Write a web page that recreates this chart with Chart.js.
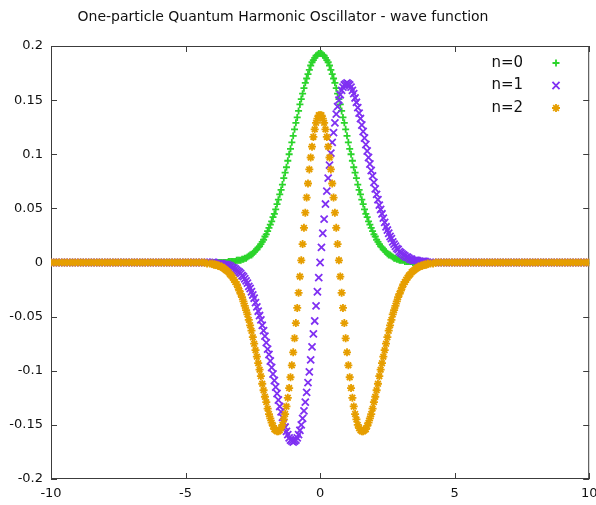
<!DOCTYPE html>
<html>
<head>
<meta charset="utf-8">
<title>One-particle Quantum Harmonic Oscillator</title>
<script src="https://cdn.jsdelivr.net/npm/chart.js@4/dist/chart.umd.min.js"></script>
<style>
  html, body { margin: 0; padding: 0; background: #ffffff; }
  #wrap { width: 596px; height: 505px; }
</style>
</head>
<body>
<div id="wrap"><canvas id="waveChart" width="596" height="505"></canvas></div>
<script>
/* --------------- Data --------------------- */
const chartTitle = "One-particle Quantum Harmonic Oscillator - wave function";
const seriesNames = ["n=0", "n=1", "n=2"];

// sample positions: coarse in the flat tails, fine in the core
const xs = [
  -10, -9.9, -9.8, -9.7, -9.6, -9.5, -9.4, -9.3, -9.2, -9.1,
  -9, -8.9, -8.8, -8.7, -8.6, -8.5, -8.4, -8.3, -8.2, -8.1,
  -8, -7.9, -7.8, -7.7, -7.6, -7.5, -7.4, -7.3, -7.2, -7.1,
  -7, -6.9, -6.8, -6.7, -6.6, -6.5, -6.4, -6.3, -6.2, -6.1,
  -6, -5.9, -5.8, -5.7, -5.6, -5.5, -5.4, -5.3, -5.2, -5.1,
  -5, -4.9, -4.8, -4.7, -4.6, -4.5, -4.4, -4.3, -4.2, -4.1,
  -4, -3.95, -3.9, -3.85, -3.8, -3.75, -3.7, -3.65, -3.6, -3.55,
  -3.5, -3.45, -3.4, -3.35, -3.3, -3.25, -3.2, -3.15, -3.1, -3.05,
  -3, -2.95, -2.9, -2.85, -2.8, -2.75, -2.7, -2.65, -2.6, -2.55,
  -2.5, -2.45, -2.4, -2.35, -2.3, -2.25, -2.2, -2.15, -2.1, -2.05,
  -2, -1.95, -1.9, -1.85, -1.8, -1.75, -1.7, -1.65, -1.6, -1.55,
  -1.5, -1.45, -1.4, -1.35, -1.3, -1.25, -1.2, -1.15, -1.1, -1.05,
  -1, -0.95, -0.9, -0.85, -0.8, -0.75, -0.7, -0.65, -0.6, -0.55,
  -0.5, -0.45, -0.4, -0.35, -0.3, -0.25, -0.2, -0.15, -0.1, -0.05,
  0, 0.05, 0.1, 0.15, 0.2, 0.25, 0.3, 0.35, 0.4, 0.45,
  0.5, 0.55, 0.6, 0.65, 0.7, 0.75, 0.8, 0.85, 0.9, 0.95,
  1, 1.05, 1.1, 1.15, 1.2, 1.25, 1.3, 1.35, 1.4, 1.45,
  1.5, 1.55, 1.6, 1.65, 1.7, 1.75, 1.8, 1.85, 1.9, 1.95,
  2, 2.05, 2.1, 2.15, 2.2, 2.25, 2.3, 2.35, 2.4, 2.45,
  2.5, 2.55, 2.6, 2.65, 2.7, 2.75, 2.8, 2.85, 2.9, 2.95,
  3, 3.05, 3.1, 3.15, 3.2, 3.25, 3.3, 3.35, 3.4, 3.45,
  3.5, 3.55, 3.6, 3.65, 3.7, 3.75, 3.8, 3.85, 3.9, 3.95,
  4,
  4.1, 4.2, 4.3, 4.4, 4.5, 4.6, 4.7, 4.8, 4.9, 5,
  5.1, 5.2, 5.3, 5.4, 5.5, 5.6, 5.7, 5.8, 5.9, 6,
  6.1, 6.2, 6.3, 6.4, 6.5, 6.6, 6.7, 6.8, 6.9, 7,
  7.1, 7.2, 7.3, 7.4, 7.5, 7.6, 7.7, 7.8, 7.9, 8,
  8.1, 8.2, 8.3, 8.4, 8.5, 8.6, 8.7, 8.8, 8.9, 9,
  9.1, 9.2, 9.3, 9.4, 9.5, 9.6, 9.7, 9.8, 9.9, 10,
];

// n=0
const psi0 = [
  0, 0, 0, 0, 0, 0, 0, 0, 0, 0,
  0, 0, 0, 0, 0, 0, 0, 0, 0, 0,
  0, 0, 0, 0, 0, 0, 0, 0, 0, 0,
  0, 0, 0, 0, 0, 0, 0, 0, 0, 0,
  0, 0, 0, 0, 0, 0, 0, 0, 0, 0,
  0, 0, 0, 0, 0, 0, 0, 0, 0, 0,
  0, 0, 0, 0, 0, 0, 0, 0, 0, 0,
  0, 0, 0.001, 0.001, 0.001, 0.001, 0.001, 0.001, 0.002, 0.002,
  0.002, 0.002, 0.003, 0.003, 0.004, 0.004, 0.005, 0.006, 0.007, 0.007,
  0.008, 0.010, 0.011, 0.012, 0.014, 0.015, 0.017, 0.019, 0.021, 0.024,
  0.026, 0.029, 0.032, 0.035, 0.038, 0.042, 0.045, 0.049, 0.054, 0.058,
  0.063, 0.067, 0.072, 0.078, 0.083, 0.088, 0.094, 0.100, 0.105, 0.111,
  0.117, 0.123, 0.129, 0.134, 0.140, 0.146, 0.151, 0.156, 0.161, 0.166,
  0.170, 0.174, 0.178, 0.182, 0.185, 0.187, 0.189, 0.191, 0.192, 0.193,
  0.193, 0.193, 0.192, 0.191, 0.189, 0.187, 0.185, 0.182, 0.178, 0.174,
  0.170, 0.166, 0.161, 0.156, 0.151, 0.146, 0.140, 0.134, 0.129, 0.123,
  0.117, 0.111, 0.105, 0.100, 0.094, 0.088, 0.083, 0.078, 0.072, 0.067,
  0.063, 0.058, 0.054, 0.049, 0.045, 0.042, 0.038, 0.035, 0.032, 0.029,
  0.026, 0.024, 0.021, 0.019, 0.017, 0.015, 0.014, 0.012, 0.011, 0.010,
  0.008, 0.007, 0.007, 0.006, 0.005, 0.004, 0.004, 0.003, 0.003, 0.002,
  0.002, 0.002, 0.002, 0.001, 0.001, 0.001, 0.001, 0.001, 0.001, 0,
  0, 0, 0, 0, 0, 0, 0, 0, 0, 0,
  0,
  0, 0, 0, 0, 0, 0, 0, 0, 0, 0,
  0, 0, 0, 0, 0, 0, 0, 0, 0, 0,
  0, 0, 0, 0, 0, 0, 0, 0, 0, 0,
  0, 0, 0, 0, 0, 0, 0, 0, 0, 0,
  0, 0, 0, 0, 0, 0, 0, 0, 0, 0,
  0, 0, 0, 0, 0, 0, 0, 0, 0, 0,
];

// n=1
const psi1 = [
  0, 0, 0, 0, 0, 0, 0, 0, 0, 0,
  0, 0, 0, 0, 0, 0, 0, 0, 0, 0,
  0, 0, 0, 0, 0, 0, 0, 0, 0, 0,
  0, 0, 0, 0, 0, 0, 0, 0, 0, 0,
  0, 0, 0, 0, 0, 0, 0, 0, 0, 0,
  0, 0, 0, 0, 0, 0, 0, 0, 0, 0,
  0, 0, -0.001, -0.001, -0.001, -0.001, -0.001, -0.001, -0.002, -0.002,
  -0.002, -0.002, -0.003, -0.003, -0.004, -0.005, -0.005, -0.006, -0.007, -0.008,
  -0.009, -0.010, -0.012, -0.013, -0.015, -0.017, -0.019, -0.022, -0.024, -0.027,
  -0.030, -0.033, -0.037, -0.041, -0.045, -0.049, -0.053, -0.058, -0.063, -0.068,
  -0.074, -0.080, -0.085, -0.091, -0.097, -0.103, -0.109, -0.115, -0.121, -0.127,
  -0.133, -0.138, -0.143, -0.148, -0.152, -0.156, -0.159, -0.162, -0.164, -0.165,
  -0.166, -0.165, -0.164, -0.162, -0.159, -0.155, -0.150, -0.144, -0.137, -0.129,
  -0.120, -0.111, -0.101, -0.090, -0.078, -0.066, -0.054, -0.040, -0.027, -0.014,
  0, 0.014, 0.027, 0.040, 0.054, 0.066, 0.078, 0.090, 0.101, 0.111,
  0.120, 0.129, 0.137, 0.144, 0.150, 0.155, 0.159, 0.162, 0.164, 0.165,
  0.166, 0.165, 0.164, 0.162, 0.159, 0.156, 0.152, 0.148, 0.143, 0.138,
  0.133, 0.127, 0.121, 0.115, 0.109, 0.103, 0.097, 0.091, 0.085, 0.080,
  0.074, 0.068, 0.063, 0.058, 0.053, 0.049, 0.045, 0.041, 0.037, 0.033,
  0.030, 0.027, 0.024, 0.022, 0.019, 0.017, 0.015, 0.013, 0.012, 0.010,
  0.009, 0.008, 0.007, 0.006, 0.005, 0.005, 0.004, 0.003, 0.003, 0.002,
  0.002, 0.002, 0.002, 0.001, 0.001, 0.001, 0.001, 0.001, 0.001, 0,
  0,
  0, 0, 0, 0, 0, 0, 0, 0, 0, 0,
  0, 0, 0, 0, 0, 0, 0, 0, 0, 0,
  0, 0, 0, 0, 0, 0, 0, 0, 0, 0,
  0, 0, 0, 0, 0, 0, 0, 0, 0, 0,
  0, 0, 0, 0, 0, 0, 0, 0, 0, 0,
  0, 0, 0, 0, 0, 0, 0, 0, 0, 0,
];

// n=2
const psi2 = [
  0, 0, 0, 0, 0, 0, 0, 0, 0, 0,
  0, 0, 0, 0, 0, 0, 0, 0, 0, 0,
  0, 0, 0, 0, 0, 0, 0, 0, 0, 0,
  0, 0, 0, 0, 0, 0, 0, 0, 0, 0,
  0, 0, 0, 0, 0, 0, 0, 0, 0, 0,
  0, 0, 0, 0, 0, 0, 0, 0, -0.001, -0.001,
  -0.001, -0.002, -0.002, -0.002, -0.003, -0.003, -0.004, -0.004, -0.005, -0.006,
  -0.007, -0.008, -0.009, -0.011, -0.012, -0.014, -0.016, -0.018, -0.020, -0.023,
  -0.026, -0.029, -0.032, -0.036, -0.040, -0.044, -0.048, -0.053, -0.058, -0.063,
  -0.069, -0.075, -0.081, -0.087, -0.093, -0.099, -0.105, -0.112, -0.118, -0.124,
  -0.129, -0.135, -0.140, -0.144, -0.148, -0.151, -0.154, -0.155, -0.156, -0.156,
  -0.155, -0.153, -0.150, -0.145, -0.140, -0.133, -0.125, -0.116, -0.106, -0.095,
  -0.083, -0.070, -0.056, -0.042, -0.028, -0.013, 0.002, 0.017, 0.032, 0.046,
  0.060, 0.073, 0.086, 0.097, 0.107, 0.116, 0.123, 0.129, 0.133, 0.136,
  0.136, 0.136, 0.133, 0.129, 0.123, 0.116, 0.107, 0.097, 0.086, 0.073,
  0.060, 0.046, 0.032, 0.017, 0.002, -0.013, -0.028, -0.042, -0.056, -0.070,
  -0.083, -0.095, -0.106, -0.116, -0.125, -0.133, -0.140, -0.145, -0.150, -0.153,
  -0.155, -0.156, -0.156, -0.155, -0.154, -0.151, -0.148, -0.144, -0.140, -0.135,
  -0.129, -0.124, -0.118, -0.112, -0.105, -0.099, -0.093, -0.087, -0.081, -0.075,
  -0.069, -0.063, -0.058, -0.053, -0.048, -0.044, -0.040, -0.036, -0.032, -0.029,
  -0.026, -0.023, -0.020, -0.018, -0.016, -0.014, -0.012, -0.011, -0.009, -0.008,
  -0.007, -0.006, -0.005, -0.004, -0.004, -0.003, -0.003, -0.002, -0.002, -0.002,
  -0.001,
  -0.001, -0.001, 0, 0, 0, 0, 0, 0, 0, 0,
  0, 0, 0, 0, 0, 0, 0, 0, 0, 0,
  0, 0, 0, 0, 0, 0, 0, 0, 0, 0,
  0, 0, 0, 0, 0, 0, 0, 0, 0, 0,
  0, 0, 0, 0, 0, 0, 0, 0, 0, 0,
  0, 0, 0, 0, 0, 0, 0, 0, 0, 0,
];

/* --------------- Look --------------------- */
const seriesColors = ["#2bd42b", "#7f30f2", "#e69e00"];
const seriesPoints = ["cross", "crossRot", "star"];
const seriesRadius = [3.5, 5, 4];
const markWidth = 1.8;
const frameColor = "#3c3c3c";
const textColor = "#111111";
const tickLen = 6;

const toPoints = (ys) => xs.map((x, i) => ({ x: x, y: ys[i] }));
const allSeries = [psi0, psi1, psi2];

/* --------------- Frame, Title And Key --------------------- */
const gnuplotFrame = {
  id: "gnuplotFrame",
  beforeDatasetsDraw(chart) {
    const { ctx, chartArea: a, scales } = chart;
    ctx.save();
    ctx.strokeStyle = frameColor;
    ctx.lineWidth = 1;
    ctx.strokeRect(a.left + 0.5, a.top + 0.5, a.right - a.left - 1, a.bottom - a.top - 1);
    ctx.beginPath();
    scales.x.ticks.forEach((t) => {
      const px = Math.round(scales.x.getPixelForValue(t.value)) + 0.5;
      ctx.moveTo(px, a.bottom);
      ctx.lineTo(px, a.bottom - tickLen);
      ctx.moveTo(px, a.top);
      ctx.lineTo(px, a.top + tickLen);
    });
    scales.y.ticks.forEach((t) => {
      const py = Math.round(scales.y.getPixelForValue(t.value)) + 0.5;
      ctx.moveTo(a.left, py);
      ctx.lineTo(a.left + tickLen, py);
      ctx.moveTo(a.right, py);
      ctx.lineTo(a.right - tickLen, py);
    });
    ctx.stroke();
    ctx.restore();
  },
  afterDraw(chart) {
    const { ctx } = chart;
    ctx.save();
    ctx.fillStyle = textColor;
    ctx.font = "14px 'DejaVu Sans'";
    ctx.textAlign = "center";
    ctx.textBaseline = "middle";
    ctx.fillText(chartTitle, 283, 17);

    // key, top right: text then symbol
    ctx.font = "15px 'DejaVu Sans'";
    ctx.textAlign = "right";
    seriesNames.forEach((name, i) => {
      const y = 63 + i * 22.5;
      ctx.fillStyle = textColor;
      ctx.fillText(name, 523, y);
      drawMark(ctx, seriesPoints[i], seriesColors[i], seriesRadius[i], 556, y);
    });
    ctx.restore();
  },
};

function drawMark(ctx, style, color, r, x, y) {
  ctx.save();
  ctx.strokeStyle = color;
  ctx.lineWidth = markWidth;
  ctx.beginPath();
  if (style === "cross" || style === "star") {
    ctx.moveTo(x - r, y); ctx.lineTo(x + r, y);
    ctx.moveTo(x, y - r); ctx.lineTo(x, y + r);
  }
  if (style === "crossRot" || style === "star") {
    const d = r * Math.SQRT1_2;
    ctx.moveTo(x - d, y - d); ctx.lineTo(x + d, y + d);
    ctx.moveTo(x - d, y + d); ctx.lineTo(x + d, y - d);
  }
  ctx.stroke();
  ctx.restore();
}

/* --------------- Chart --------------------- */
const waveChart = new Chart(document.getElementById("waveChart"), {
  type: "scatter",
  plugins: [gnuplotFrame],
  data: {
    datasets: allSeries.map((ys, i) => ({
      label: seriesNames[i],
      data: toPoints(ys),
      pointStyle: seriesPoints[i],
      pointRadius: seriesRadius[i],
      pointBorderWidth: markWidth,
      borderColor: seriesColors[i],
      backgroundColor: seriesColors[i],
      showLine: false,
      order: 3 - i, // n=2 ends up on top like in gnuplot
    })),
  },
  options: {
    responsive: false,
    animation: false,
    events: [],
    layout: { padding: { top: 46, right: 4, left: 0, bottom: 0 } },
    plugins: {
      legend: { display: false },
      tooltip: { enabled: false },
      title: { display: false },
    },
    scales: {
      x: {
        type: "linear",
        min: -10,
        max: 10,
        grid: { display: false, drawTicks: false },
        border: { display: false },
        ticks: {
          stepSize: 5,
          padding: 7,
          color: textColor,
          font: { family: "DejaVu Sans", size: 13 },
          maxRotation: 0,
        },
        afterFit: (s) => {
          s.height = 26;
          s.paddingLeft = 0;
          s.paddingRight = 0;
        },
      },
      y: {
        min: -0.2,
        max: 0.2,
        grid: { display: false, drawTicks: false },
        border: { display: false },
        ticks: {
          stepSize: 0.05,
          padding: 8,
          color: textColor,
          font: { family: "DejaVu Sans", size: 13 },
          callback: (v) => String(+v.toFixed(2)),
        },
        afterFit: (s) => {
          s.width = 51;
          s.paddingTop = 0;
          s.paddingBottom = 0;
        },
      },
    },
  },
});
</script>
</body>
</html>
